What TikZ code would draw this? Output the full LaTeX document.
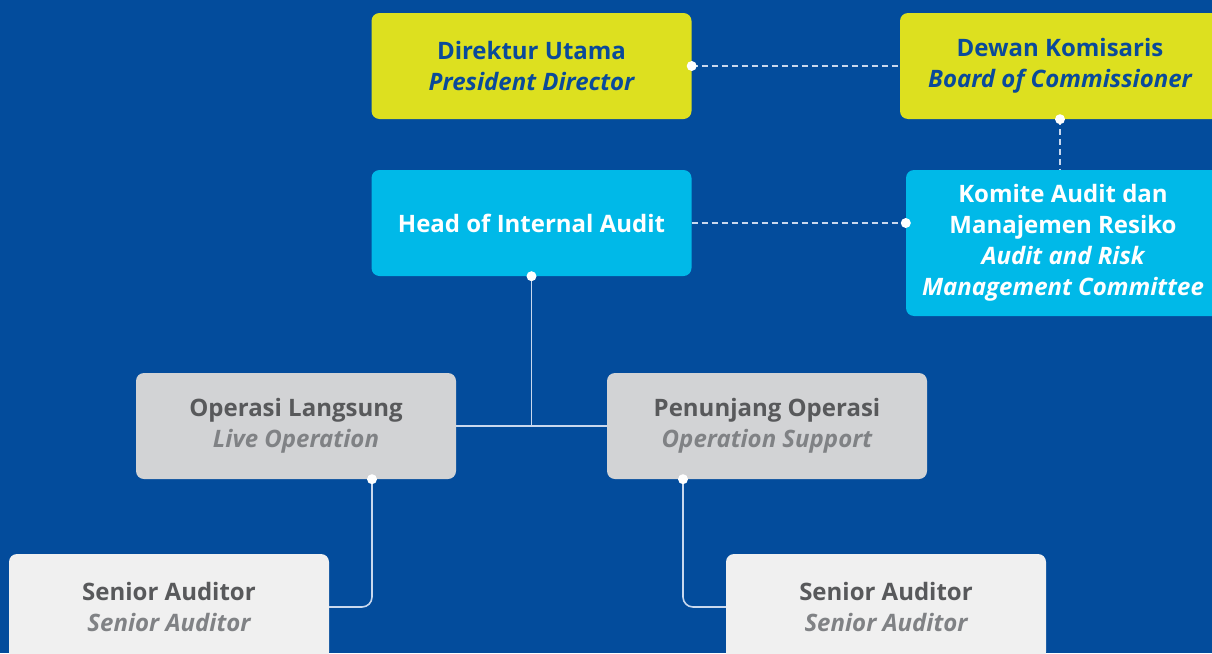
\documentclass[tikz,border=0pt]{standalone}
\usepackage{fontspec}
\setmainfont{Open Sans}
\usepackage{xcolor}
\usetikzlibrary{positioning}

\definecolor{bgblue}{HTML}{034C9C}
\definecolor{lime}{HTML}{DDE01F}
\definecolor{sky}{HTML}{00B9E8}
\definecolor{midgray}{HTML}{D2D3D5}
\definecolor{lightgray}{HTML}{F0F0F0}
\definecolor{darkblue}{HTML}{0A4A9A}
\definecolor{darktext}{HTML}{58595B}
\definecolor{softtext}{HTML}{808285}
\definecolor{wire}{HTML}{C9D8EE}

\tikzset{
		unit/.style={rounded corners=8pt, minimum width=320pt, minimum height=106pt,
			align=center, inner sep=0pt, font=\fontsize{24}{31}\selectfont\bfseries},
		board/.style={unit, fill=lime, text=darkblue},
		audit/.style={unit, fill=sky, text=white},
		division/.style={unit, fill=midgray, text=darktext},
		staff/.style={unit, fill=lightgray, text=darktext},
		link/.style={draw=wire, line width=1.6pt},
		dashlink/.style={link, dash pattern=on 6pt off 4pt},
		knob/.style={fill=white}
	}
\newcommand{\en}[2][softtext]{{\color{#1}\itshape #2}}

\begin{document}
\begin{tikzpicture}[x=1pt, y=-1pt] % one unit = one pixel, y grows downwards
		\useasboundingbox[fill=bgblue] (0,0) rectangle (1212,653);
		% board level
		\node[board] (dirut) at (531.5,66) {Direktur Utama\\\itshape President Director};
		\node[board] (dekom) at (1060,66) {Dewan Komisaris\\\itshape Board of Commissioner};
		% audit level
		\node[audit] (hia) at (531.5,223) {Head of Internal Audit};
		\node[audit, minimum width=314pt, minimum height=146pt] (komite) at (1063,243)
			{Komite Audit dan\\Manajemen Resiko\\\itshape Audit and Risk\\\itshape Management Committee};
		% divisions
		\node[division] (opl) at (296,426) {Operasi Langsung\\\en{Live Operation}};
		\node[division] (pop) at (767,426) {Penunjang Operasi\\\en{Operation Support}};
		% auditors
		\node[staff] (sa1) at (169,607) {Senior Auditor\\\en{Senior Auditor}};
		\node[staff] (sa2) at (886,607) {Senior Auditor\\\en{Senior Auditor}};

		\coordinate (oplout) at ([xshift=76pt]opl.south);
		\coordinate (popout) at ([xshift=-84pt]pop.south);
		\coordinate (komin) at (hia.east -| komite.west);

		% dashed lines to the board
		\draw[dashlink] (dirut.east) -- (dekom.west);
		\draw[dashlink] (hia.east) -- (komin);
		\draw[dashlink] (dekom.south) -- (dekom.south |- komite.north);
		% solid lines down the tree
		\draw[link] (hia.south) -- (hia.south |- opl.east);
		\draw[link] (opl.east) -- (pop.west);
		\draw[link, rounded corners=10pt] (oplout) |- (sa1.east);
		\draw[link, rounded corners=10pt] (popout) |- (sa2.west);

		\foreach \k in {dirut.east, dekom.south, komin, hia.south, oplout, popout} {
			\fill[knob] (\k) circle (5pt);
		}
	\end{tikzpicture}
\end{document}
